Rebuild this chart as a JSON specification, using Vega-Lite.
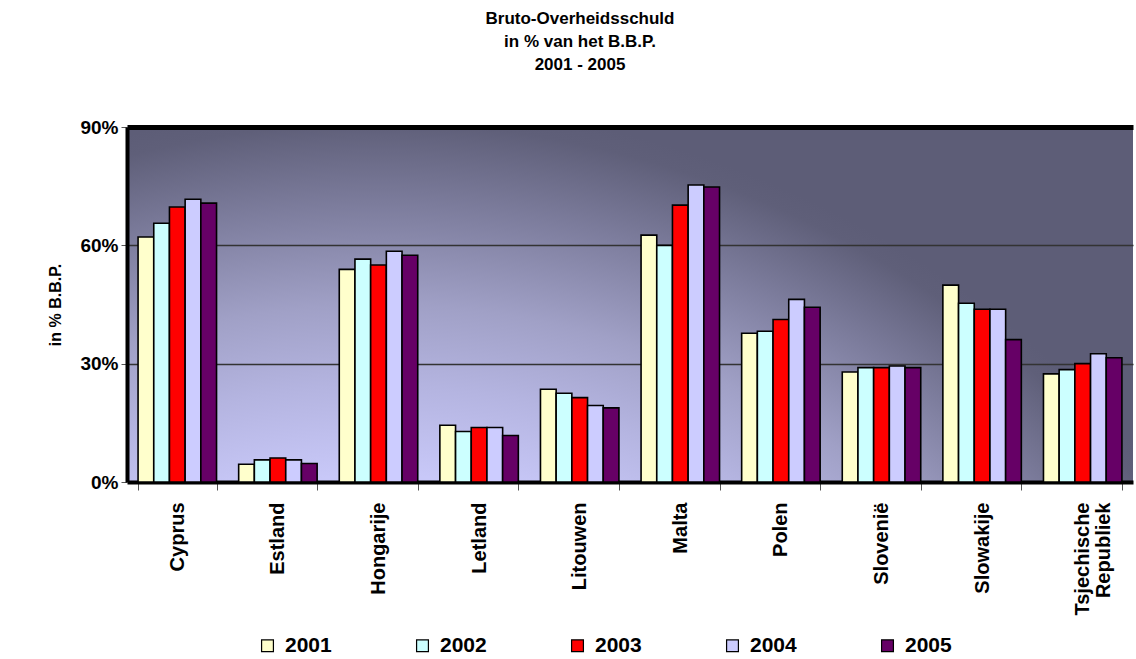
{
  "$schema": "https://vega.github.io/schema/vega-lite/v6.json",
  "width": 1006,
  "height": 355,
  "autosize": {"type": "none"},
  "padding": {"left": 127, "top": 127, "right": 3, "bottom": 177},
  "background": "white",
  "title": {
    "text": ["Bruto-Overheidsschuld", "in % van het B.B.P.", "2001 - 2005"],
    "font": "Liberation Sans",
    "fontSize": 17,
    "fontWeight": "bold",
    "lineHeight": 23,
    "anchor": "middle",
    "dx": -50,
    "offset": 44,
    "color": "black"
  },
  "config": {
    "view": {
      "stroke": null,
      "fill": {
        "gradient": "radial",
        "x1": 0.25, "y1": 1.3, "r1": 0,
        "x2": 0.25, "y2": 1.3, "r2": 1.0,
        "stops": [
          {"offset": 0, "color": "#c8c8f8"},
          {"offset": 0.63, "color": "#c8c8f8"},
          {"offset": 0.72, "color": "#b4b4e0"},
          {"offset": 0.8, "color": "#a0a0c6"},
          {"offset": 0.9, "color": "#7c7c9c"},
          {"offset": 0.98, "color": "#5f5f79"},
          {"offset": 1, "color": "#5d5d77"}
        ]
      }
    },
    "font": "Liberation Sans"
  },
  "data": {
    "values": [
      {"land": "Cyprus", "jaar": "2001", "waarde": 0.621},
      {"land": "Cyprus", "jaar": "2002", "waarde": 0.656},
      {"land": "Cyprus", "jaar": "2003", "waarde": 0.697},
      {"land": "Cyprus", "jaar": "2004", "waarde": 0.717},
      {"land": "Cyprus", "jaar": "2005", "waarde": 0.707},
      {"land": "Estland", "jaar": "2001", "waarde": 0.045},
      {"land": "Estland", "jaar": "2002", "waarde": 0.056},
      {"land": "Estland", "jaar": "2003", "waarde": 0.061},
      {"land": "Estland", "jaar": "2004", "waarde": 0.056},
      {"land": "Estland", "jaar": "2005", "waarde": 0.047},
      {"land": "Hongarije", "jaar": "2001", "waarde": 0.539},
      {"land": "Hongarije", "jaar": "2002", "waarde": 0.565},
      {"land": "Hongarije", "jaar": "2003", "waarde": 0.550},
      {"land": "Hongarije", "jaar": "2004", "waarde": 0.585},
      {"land": "Hongarije", "jaar": "2005", "waarde": 0.575},
      {"land": "Letland", "jaar": "2001", "waarde": 0.144},
      {"land": "Letland", "jaar": "2002", "waarde": 0.128},
      {"land": "Letland", "jaar": "2003", "waarde": 0.138},
      {"land": "Letland", "jaar": "2004", "waarde": 0.138},
      {"land": "Letland", "jaar": "2005", "waarde": 0.118},
      {"land": "Litouwen", "jaar": "2001", "waarde": 0.235},
      {"land": "Litouwen", "jaar": "2002", "waarde": 0.225},
      {"land": "Litouwen", "jaar": "2003", "waarde": 0.214},
      {"land": "Litouwen", "jaar": "2004", "waarde": 0.194},
      {"land": "Litouwen", "jaar": "2005", "waarde": 0.188},
      {"land": "Malta", "jaar": "2001", "waarde": 0.626},
      {"land": "Malta", "jaar": "2002", "waarde": 0.600},
      {"land": "Malta", "jaar": "2003", "waarde": 0.702},
      {"land": "Malta", "jaar": "2004", "waarde": 0.753},
      {"land": "Malta", "jaar": "2005", "waarde": 0.748},
      {"land": "Polen", "jaar": "2001", "waarde": 0.377},
      {"land": "Polen", "jaar": "2002", "waarde": 0.382},
      {"land": "Polen", "jaar": "2003", "waarde": 0.412},
      {"land": "Polen", "jaar": "2004", "waarde": 0.463},
      {"land": "Polen", "jaar": "2005", "waarde": 0.443},
      {"land": "Slovenië", "jaar": "2001", "waarde": 0.279},
      {"land": "Slovenië", "jaar": "2002", "waarde": 0.290},
      {"land": "Slovenië", "jaar": "2003", "waarde": 0.290},
      {"land": "Slovenië", "jaar": "2004", "waarde": 0.294},
      {"land": "Slovenië", "jaar": "2005", "waarde": 0.290},
      {"land": "Slowakije", "jaar": "2001", "waarde": 0.499},
      {"land": "Slowakije", "jaar": "2002", "waarde": 0.453},
      {"land": "Slowakije", "jaar": "2003", "waarde": 0.438},
      {"land": "Slowakije", "jaar": "2004", "waarde": 0.438},
      {"land": "Slowakije", "jaar": "2005", "waarde": 0.361},
      {"land": "Tsjechische Republiek", "jaar": "2001", "waarde": 0.274},
      {"land": "Tsjechische Republiek", "jaar": "2002", "waarde": 0.285},
      {"land": "Tsjechische Republiek", "jaar": "2003", "waarde": 0.300},
      {"land": "Tsjechische Republiek", "jaar": "2004", "waarde": 0.325},
      {"land": "Tsjechische Republiek", "jaar": "2005", "waarde": 0.315}
    ]
  },
  "mark": {"type": "bar", "stroke": "black", "strokeWidth": 1.6},
  "encoding": {
    "x": {
      "field": "land",
      "type": "nominal",
      "sort": null,
      "scale": {"paddingInner": 0.22, "paddingOuter": 0.11},
      "axis": {
        "title": null,
        "labelAngle": -90,
        "labelAlign": "right",
        "labelBaseline": "middle",
        "labelFont": "Liberation Sans",
        "labelFontSize": 20,
        "labelFontWeight": "bold",
        "labelColor": "black",
        "labelPadding": 12,
        "labelLineHeight": 21,
        "labelExpr": "datum.label == 'Tsjechische Republiek' ? ['Tsjechische', 'Republiek'] : datum.label",
        "tickBand": "extent",
        "tickSize": 8,
        "tickColor": "#555555",
        "tickWidth": 1,
        "domainColor": "black",
        "domainWidth": 4,
        "grid": false
      }
    },
    "xOffset": {
      "field": "jaar",
      "type": "nominal",
      "scale": {"paddingInner": 0, "paddingOuter": 0}
    },
    "y": {
      "field": "waarde",
      "type": "quantitative",
      "scale": {"domain": [0, 0.9], "nice": false},
      "axis": {
        "title": "in % B.B.P.",
        "titleFont": "Liberation Sans",
        "titleFontSize": 16,
        "titleFontWeight": "bold",
        "titleColor": "black",
        "titlePadding": 16,
        "values": [0, 0.3, 0.6, 0.9],
        "format": ".0%",
        "labelFont": "Liberation Sans",
        "labelFontSize": 19,
        "labelFontWeight": "bold",
        "labelColor": "black",
        "labelPadding": 3,
        "tickSize": 6,
        "tickColor": "#555555",
        "domainColor": "black",
        "domainWidth": 4,
        "grid": true,
        "gridColor": {"condition": {"test": "datum.value >= 0.9", "value": "black"}, "value": "#333333"},
        "gridWidth": {"condition": {"test": "datum.value >= 0.9", "value": 5}, "value": 1.3},
        "gridOpacity": {"condition": {"test": "datum.value == 0", "value": 0}, "value": 1}
      }
    },
    "color": {
      "field": "jaar",
      "type": "nominal",
      "scale": {
        "domain": ["2001", "2002", "2003", "2004", "2005"],
        "range": ["#ffffcc", "#ccffff", "#ff0000", "#ccccff", "#660066"]
      },
      "legend": {
        "title": null,
        "orient": "none",
        "direction": "horizontal",
        "legendX": 130,
        "legendY": 508,
        "symbolType": "square",
        "symbolSize": 140,
        "symbolStrokeColor": "black",
        "symbolStrokeWidth": 1.2,
        "symbolOpacity": 1,
        "labelFont": "Liberation Sans",
        "labelFontSize": 21,
        "labelFontWeight": "bold",
        "labelColor": "black",
        "labelOffset": 7,
        "columnPadding": 80
      }
    }
  }
}
